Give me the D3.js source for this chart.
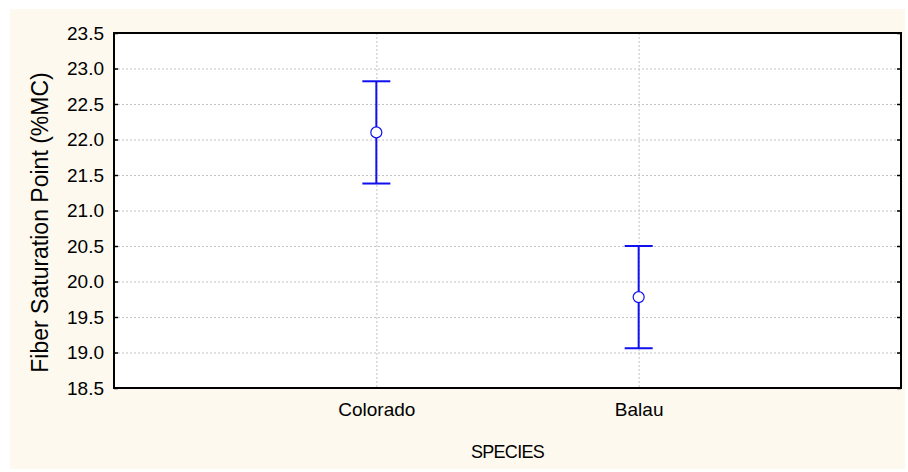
<!DOCTYPE html>
<html>
<head>
<meta charset="utf-8">
<script src="https://cdn.jsdelivr.net/npm/d3@7"></script>
<style>
  html, body { margin: 0; padding: 0; background: #ffffff; }
  svg { display: block; }
  text { font-family: "Liberation Sans", Arial, Helvetica, sans-serif; fill: #000; }
</style>
</head>
<body>
<svg id="chart" width="908" height="472"></svg>
<script>
// Species means of fiber saturation point with their interval bounds
const species = ["Colorado", "Balau"];
const means = [22.1, 19.78];
const upper = [22.82, 20.5];
const lower = [21.38, 19.06];
const yTicks = [18.5, 19.0, 19.5, 20.0, 20.5, 21.0, 21.5, 22.0, 22.5, 23.0, 23.5];

const svg = d3.select("#chart");
const plot = { left: 114, top: 33, right: 901, bottom: 388 };

// page panel
svg.append("rect")
  .attr("x", 10).attr("y", 9).attr("width", 895).attr("height", 460)
  .attr("fill", "#fdf9ee");

const x = d3.scalePoint().domain(species).range([plot.left, plot.right]).padding(1);
const y = d3.scaleLinear().domain([18.5, 23.5]).range([plot.bottom, plot.top]);

svg.append("rect")
  .attr("x", plot.left).attr("y", plot.top)
  .attr("width", plot.right - plot.left).attr("height", plot.bottom - plot.top)
  .attr("fill", "#ffffff");

// horizontal grid
svg.append("g")
  .selectAll("line")
  .data(yTicks.filter(t => t > 18.5 && t < 23.5))
  .join("line")
  .attr("x1", plot.left).attr("x2", plot.right)
  .attr("y1", d => y(d) + 0.5).attr("y2", d => y(d) + 0.5)
  .attr("stroke", "#c4c4c4").attr("stroke-width", 1)
  .attr("stroke-dasharray", "2,2");

// vertical grid at each species
svg.append("g")
  .selectAll("line")
  .data(species)
  .join("line")
  .attr("x1", d => x(d) + 0.5).attr("x2", d => x(d) + 0.5)
  .attr("y1", plot.top).attr("y2", plot.bottom)
  .attr("stroke", "#c4c4c4").attr("stroke-width", 1)
  .attr("stroke-dasharray", "2,2");

// left axis: labels outside, ticks pointing into the plot
const leftAxis = d3.axisLeft(y).tickValues(yTicks).tickFormat(d3.format(".1f"))
  .tickSizeInner(-4).tickSizeOuter(0).tickPadding(10);
const gl = svg.append("g").attr("transform", `translate(${plot.left},0)`).call(leftAxis);
gl.select(".domain").remove();
gl.selectAll(".tick line").attr("stroke", "#000").attr("stroke-width", 1.5);
gl.selectAll(".tick text").attr("font-size", 19).attr("font-family", "Liberation Sans, Arial, sans-serif")
  .attr("fill", "#000");

// right axis ticks pointing inward
const rightAxis = d3.axisRight(y).tickValues(yTicks).tickFormat("")
  .tickSizeInner(-4).tickSizeOuter(0);
const gr = svg.append("g").attr("transform", `translate(${plot.right},0)`).call(rightAxis);
gr.select(".domain").remove();
gr.selectAll(".tick line").attr("stroke", "#000").attr("stroke-width", 1.5);

// bottom axis category labels
const bottomAxis = d3.axisBottom(x).tickSize(0).tickPadding(15);
const gb = svg.append("g").attr("transform", `translate(0,${plot.bottom})`).call(bottomAxis);
gb.select(".domain").remove();
gb.selectAll(".tick text").attr("font-size", 19).attr("font-family", "Liberation Sans, Arial, sans-serif")
  .attr("fill", "#000");

// plot frame
svg.append("rect")
  .attr("x", plot.left).attr("y", plot.top)
  .attr("width", plot.right - plot.left).attr("height", plot.bottom - plot.top)
  .attr("fill", "none").attr("stroke", "#000").attr("stroke-width", 2);

// error bars
const blue = "#1010ee";
const bars = svg.append("g").selectAll("g")
  .data(species.map((s, i) => ({ s, m: means[i], hi: upper[i], lo: lower[i] })))
  .join("g");
bars.append("line")
  .attr("x1", d => x(d.s)).attr("x2", d => x(d.s))
  .attr("y1", d => y(d.hi)).attr("y2", d => y(d.lo))
  .attr("stroke", blue).attr("stroke-width", 2);
bars.append("line")
  .attr("x1", d => x(d.s) - 14).attr("x2", d => x(d.s) + 14)
  .attr("y1", d => y(d.hi)).attr("y2", d => y(d.hi))
  .attr("stroke", blue).attr("stroke-width", 2);
bars.append("line")
  .attr("x1", d => x(d.s) - 14).attr("x2", d => x(d.s) + 14)
  .attr("y1", d => y(d.lo)).attr("y2", d => y(d.lo))
  .attr("stroke", blue).attr("stroke-width", 2);
bars.append("circle")
  .attr("cx", d => x(d.s)).attr("cy", d => y(d.m)).attr("r", 5.5)
  .attr("fill", "#ffffff").attr("stroke", blue).attr("stroke-width", 1.2);

// axis titles
svg.append("text")
  .attr("x", (plot.left + plot.right) / 2).attr("y", 458)
  .attr("text-anchor", "middle").attr("font-size", 18).attr("letter-spacing", -0.7)
  .text("SPECIES");

svg.append("text")
  .attr("transform", `translate(48,${(plot.top + plot.bottom) / 2 + 12}) rotate(-90)`)
  .attr("text-anchor", "middle").attr("font-size", 23)
  .text("Fiber Saturation Point (%MC)");
</script>
</body>
</html>
